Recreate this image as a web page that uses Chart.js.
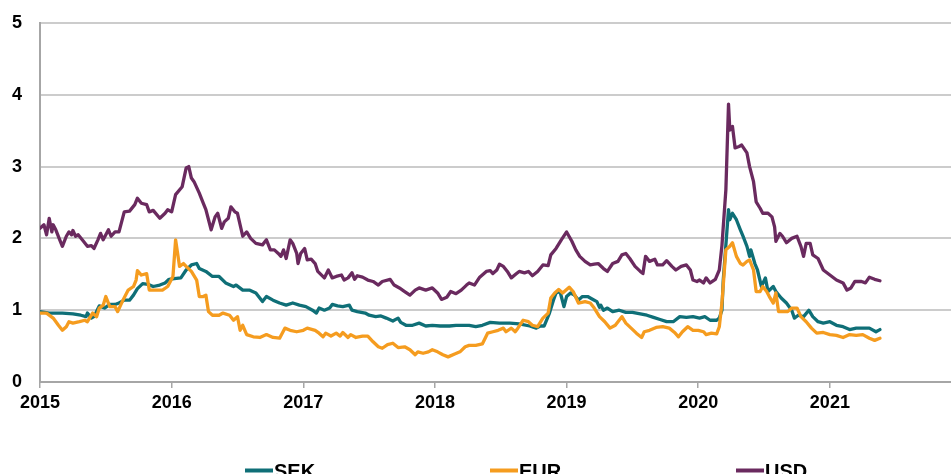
<!DOCTYPE html>
<html>
<head>
<meta charset="utf-8">
<script src="https://cdn.jsdelivr.net/npm/chart.js@4"></script>
<style>
  html, body { margin: 0; padding: 0; background: #fff; }
  #wrap { width: 951px; height: 474px; }
</style>
</head>
<body>
<div id="wrap"><canvas id="lineCanvas"></canvas></div>
<script>
// decimal years
const sekDates = [2015.00,2015.07,2015.17,2015.25,2015.31,2015.35,2015.36,2015.39,2015.41,2015.45,
  2015.49,2015.53,2015.57,2015.60,2015.64,2015.68,2015.71,2015.74,2015.78,2015.82,
  2015.86,2015.91,2015.95,2015.98,2016.02,2016.07,2016.11,2016.15,2016.19,2016.21,
  2016.26,2016.31,2016.36,2016.41,2016.47,2016.49,2016.54,2016.59,2016.64,2016.69,
  2016.72,2016.77,2016.82,2016.87,2016.92,2016.97,2017.02,2017.07,2017.10,2017.12,
  2017.16,2017.20,2017.22,2017.26,2017.30,2017.35,2017.37,2017.41,2017.47,2017.50,
  2017.55,2017.59,2017.63,2017.68,2017.72,2017.74,2017.78,2017.83,2017.88,2017.93,
  2017.98,2018.04,2018.11,2018.16,2018.21,2018.26,2018.31,2018.36,2018.42,2018.49,
  2018.57,2018.64,2018.72,2018.77,2018.80,2018.83,2018.87,2018.90,2018.92,2018.95,
  2018.98,2019.00,2019.03,2019.06,2019.09,2019.12,2019.16,2019.20,2019.23,2019.25,
  2019.26,2019.28,2019.31,2019.35,2019.40,2019.45,2019.50,2019.56,2019.61,2019.66,
  2019.71,2019.76,2019.81,2019.86,2019.91,2019.96,2020.01,2020.05,2020.09,2020.14,
  2020.16,2020.18,2020.19,2020.23,2020.24,2020.26,2020.29,2020.32,2020.34,2020.37,
  2020.39,2020.40,2020.43,2020.45,2020.48,2020.51,2020.53,2020.57,2020.59,2020.63,
  2020.67,2020.71,2020.73,2020.76,2020.80,2020.84,2020.87,2020.91,2020.95,2021.00,
  2021.05,2021.10,2021.15,2021.20,2021.25,2021.30,2021.35,2021.38]
const sekValues = [0.98,0.96,0.96,0.95,0.93,0.91,0.96,0.89,0.91,1.06,
  1.03,1.08,1.08,1.10,1.14,1.14,1.21,1.30,1.37,1.36,
  1.33,1.35,1.38,1.43,1.44,1.45,1.56,1.63,1.65,1.58,
  1.54,1.47,1.47,1.38,1.33,1.35,1.28,1.28,1.24,1.12,
  1.19,1.14,1.10,1.07,1.10,1.07,1.05,1.00,0.96,1.03,
  1.00,1.03,1.08,1.06,1.05,1.07,1.00,0.98,0.96,0.93,
  0.91,0.92,0.89,0.85,0.89,0.83,0.79,0.79,0.82,0.78,
  0.79,0.78,0.78,0.79,0.79,0.79,0.77,0.79,0.83,0.82,
  0.82,0.81,0.78,0.75,0.78,0.78,0.96,1.14,1.24,1.26,
  1.05,1.19,1.24,1.21,1.14,1.19,1.19,1.15,1.12,1.04,
  1.07,1.00,1.03,0.98,1.00,0.97,0.97,0.95,0.93,0.90,
  0.87,0.84,0.84,0.91,0.90,0.91,0.89,0.91,0.86,0.86,
  0.89,1.00,1.42,2.40,2.26,2.35,2.26,2.12,2.03,1.89,
  1.75,1.84,1.65,1.56,1.33,1.45,1.26,1.33,1.26,1.17,
  1.10,1.00,0.89,0.93,0.91,1.00,0.91,0.84,0.82,0.84,
  0.79,0.77,0.73,0.75,0.75,0.75,0.70,0.73]

const eurDates = [2015.00,2015.05,2015.10,2015.14,2015.17,2015.20,2015.22,2015.25,2015.30,2015.34,
  2015.36,2015.40,2015.43,2015.45,2015.48,2015.50,2015.53,2015.57,2015.59,2015.63,
  2015.67,2015.71,2015.73,2015.74,2015.77,2015.81,2015.83,2015.88,2015.93,2015.97,
  2016.01,2016.03,2016.06,2016.09,2016.11,2016.15,2016.19,2016.21,2016.24,2016.26,
  2016.28,2016.31,2016.36,2016.39,2016.44,2016.47,2016.50,2016.52,2016.54,2016.57,
  2016.62,2016.67,2016.72,2016.77,2016.82,2016.86,2016.90,2016.95,2017.00,2017.03,
  2017.09,2017.12,2017.15,2017.17,2017.21,2017.25,2017.28,2017.30,2017.34,2017.36,
  2017.40,2017.45,2017.49,2017.53,2017.57,2017.60,2017.64,2017.68,2017.72,2017.77,
  2017.81,2017.85,2017.87,2017.91,2017.95,2017.98,2018.02,2018.06,2018.10,2018.15,
  2018.19,2018.23,2018.26,2018.31,2018.36,2018.40,2018.44,2018.48,2018.52,2018.54,
  2018.58,2018.61,2018.63,2018.67,2018.71,2018.74,2018.78,2018.82,2018.86,2018.88,
  2018.91,2018.94,2018.97,2019.02,2019.05,2019.09,2019.14,2019.18,2019.21,2019.25,
  2019.29,2019.33,2019.37,2019.42,2019.45,2019.49,2019.53,2019.57,2019.59,2019.63,
  2019.68,2019.73,2019.78,2019.82,2019.85,2019.88,2019.92,2019.96,2020.00,2020.04,
  2020.06,2020.10,2020.14,2020.16,2020.18,2020.21,2020.24,2020.26,2020.29,2020.32,
  2020.34,2020.37,2020.39,2020.42,2020.44,2020.47,2020.49,2020.52,2020.54,2020.57,
  2020.59,2020.61,2020.64,2020.68,2020.71,2020.75,2020.78,2020.82,2020.86,2020.90,
  2020.95,2021.00,2021.05,2021.10,2021.15,2021.20,2021.25,2021.30,2021.34,2021.38]
const eurValues = [0.96,0.96,0.89,0.79,0.72,0.77,0.84,0.82,0.84,0.86,
  0.84,0.96,0.91,1.03,1.07,1.19,1.05,1.05,0.98,1.14,
  1.28,1.33,1.42,1.55,1.49,1.51,1.28,1.28,1.28,1.33,
  1.47,1.98,1.61,1.65,1.61,1.54,1.42,1.19,1.19,1.21,
  0.98,0.93,0.93,0.96,0.93,0.86,0.91,0.72,0.79,0.66,
  0.63,0.62,0.66,0.62,0.61,0.75,0.72,0.70,0.72,0.75,
  0.72,0.68,0.63,0.68,0.64,0.68,0.64,0.69,0.62,0.66,
  0.62,0.64,0.64,0.56,0.49,0.47,0.52,0.54,0.48,0.49,
  0.45,0.38,0.42,0.40,0.42,0.45,0.42,0.38,0.35,0.39,
  0.42,0.49,0.51,0.51,0.53,0.68,0.70,0.72,0.75,0.70,
  0.75,0.70,0.75,0.86,0.84,0.79,0.77,0.89,0.96,1.17,
  1.24,1.29,1.24,1.32,1.26,1.10,1.12,1.10,1.03,0.91,
  0.84,0.75,0.79,0.91,0.82,0.75,0.68,0.62,0.70,0.72,
  0.76,0.77,0.75,0.69,0.63,0.70,0.77,0.72,0.72,0.70,
  0.66,0.68,0.67,0.77,1.10,1.84,1.89,1.94,1.75,1.65,
  1.63,1.68,1.70,1.56,1.26,1.26,1.33,1.26,1.19,1.10,
  1.24,0.98,0.98,0.98,1.03,1.03,0.91,0.84,0.75,0.68,
  0.69,0.66,0.65,0.62,0.66,0.65,0.66,0.61,0.58,0.61]

const usdDates = [2015.00,2015.03,2015.05,2015.07,2015.09,2015.10,2015.12,2015.15,2015.17,2015.20,
  2015.22,2015.24,2015.25,2015.27,2015.29,2015.33,2015.36,2015.39,2015.41,2015.44,
  2015.46,2015.48,2015.50,2015.52,2015.54,2015.57,2015.60,2015.64,2015.68,2015.72,
  2015.74,2015.77,2015.81,2015.83,2015.86,2015.91,2015.95,2015.97,2016.00,2016.03,
  2016.08,2016.11,2016.13,2016.15,2016.17,2016.21,2016.24,2016.26,2016.30,2016.33,
  2016.35,2016.38,2016.40,2016.43,2016.45,2016.48,2016.50,2016.54,2016.57,2016.60,
  2016.64,2016.69,2016.72,2016.75,2016.78,2016.81,2016.83,2016.85,2016.87,2016.90,
  2016.92,2016.95,2016.96,2016.98,2017.01,2017.03,2017.06,2017.09,2017.11,2017.16,
  2017.19,2017.22,2017.25,2017.29,2017.31,2017.34,2017.37,2017.39,2017.41,2017.45,
  2017.49,2017.53,2017.57,2017.60,2017.66,2017.69,2017.73,2017.77,2017.81,2017.85,
  2017.88,2017.93,2017.98,2018.02,2018.05,2018.09,2018.12,2018.16,2018.20,2018.24,
  2018.26,2018.30,2018.34,2018.39,2018.42,2018.44,2018.47,2018.49,2018.52,2018.55,
  2018.58,2018.62,2018.64,2018.68,2018.71,2018.74,2018.78,2018.82,2018.86,2018.88,
  2018.92,2018.96,2019.00,2019.04,2019.07,2019.10,2019.14,2019.18,2019.21,2019.24,
  2019.28,2019.31,2019.35,2019.39,2019.42,2019.45,2019.48,2019.52,2019.56,2019.58,
  2019.60,2019.63,2019.67,2019.69,2019.73,2019.76,2019.80,2019.83,2019.87,2019.91,
  2019.94,2019.96,2019.99,2020.01,2020.04,2020.06,2020.09,2020.13,2020.16,2020.18,
  2020.21,2020.23,2020.24,2020.26,2020.28,2020.31,2020.33,2020.37,2020.39,2020.42,
  2020.44,2020.47,2020.49,2020.53,2020.56,2020.58,2020.59,2020.62,2020.64,2020.67,
  2020.71,2020.75,2020.78,2020.80,2020.82,2020.85,2020.87,2020.91,2020.95,2021.00,
  2021.05,2021.10,2021.13,2021.16,2021.19,2021.24,2021.27,2021.30,2021.34,2021.38]
const usdValues = [2.14,2.19,2.05,2.28,2.09,2.19,2.12,1.98,1.89,2.03,
  2.09,2.05,2.11,2.03,2.05,1.96,1.89,1.90,1.86,1.98,
  2.07,1.98,2.05,2.12,2.03,2.09,2.09,2.37,2.38,2.47,
  2.56,2.49,2.47,2.37,2.39,2.28,2.35,2.40,2.37,2.61,
  2.72,2.98,3.00,2.84,2.79,2.63,2.49,2.40,2.12,2.30,
  2.35,2.14,2.23,2.28,2.44,2.37,2.35,2.03,2.09,2.00,
  1.93,1.91,1.98,1.84,1.84,1.79,1.75,1.84,1.72,1.98,
  1.93,1.79,1.65,1.79,1.86,1.70,1.71,1.65,1.54,1.45,
  1.56,1.45,1.47,1.49,1.42,1.45,1.52,1.43,1.48,1.46,
  1.42,1.40,1.35,1.40,1.43,1.35,1.31,1.26,1.21,1.28,
  1.31,1.28,1.31,1.24,1.15,1.18,1.26,1.23,1.28,1.35,
  1.38,1.35,1.46,1.54,1.55,1.51,1.56,1.64,1.61,1.54,
  1.45,1.51,1.54,1.52,1.54,1.48,1.54,1.63,1.62,1.77,
  1.86,1.98,2.09,1.96,1.84,1.75,1.68,1.63,1.64,1.65,
  1.58,1.54,1.65,1.68,1.77,1.79,1.72,1.61,1.54,1.51,
  1.75,1.68,1.71,1.63,1.63,1.69,1.61,1.56,1.61,1.63,
  1.56,1.42,1.40,1.42,1.38,1.45,1.38,1.43,1.56,1.90,
  2.68,3.87,3.51,3.56,3.26,3.28,3.30,3.19,3.00,2.79,
  2.51,2.42,2.35,2.35,2.30,2.16,1.96,2.07,2.03,1.94,
  2.00,2.03,1.89,1.75,1.93,1.93,1.77,1.72,1.56,1.49,
  1.42,1.38,1.28,1.31,1.40,1.40,1.38,1.46,1.43,1.41]

const seriesNames = ['SEK', 'EUR', 'USD']
const seriesColors = ['#0f6f77', '#f59c1f', '#6a2a5f']
const yearTicks = [2015, 2016, 2017, 2018, 2019, 2020, 2021]

const points = (dates, values) => dates.map((d, i) => ({ x: d, y: values[i] }))

const tickFont = { family: '"Liberation Sans", Arial, sans-serif', size: 18, weight: 'bold' }

// legend drawn by hand so the items sit where they sit in the picture
const bottomLegend = {
    id: 'bottomLegend',
    afterDraw(chart) {
        const ctx = chart.ctx
        const starts = [245, 490, 736]
        ctx.save()
        ctx.font = 'bold 20px "Liberation Sans", Arial, sans-serif'
        ctx.textBaseline = 'middle'
        ctx.textAlign = 'left'
        chart.data.datasets.forEach((ds, i) => {
            const x = starts[i]
            ctx.strokeStyle = ds.borderColor
            ctx.lineWidth = 4
            ctx.beginPath()
            ctx.moveTo(x, 470.5)
            ctx.lineTo(x + 28, 470.5)
            ctx.stroke()
            ctx.fillStyle = '#000'
            ctx.fillText(ds.label, x + 29, 472)
        })
        ctx.restore()
    }
}

const lineCanvas = document.getElementById('lineCanvas')

const lineChart = new Chart(lineCanvas, {
    type: 'line',
    data: {
        datasets: [
            { label: seriesNames[0], data: points(sekDates, sekValues), borderColor: seriesColors[0], order: 2 },
            { label: seriesNames[1], data: points(eurDates, eurValues), borderColor: seriesColors[1], order: 1 },
            { label: seriesNames[2], data: points(usdDates, usdValues), borderColor: seriesColors[2], order: 0 }
        ]
    },
    options: {
        responsive: true,
        maintainAspectRatio: false,
        animation: false,
        layout: { padding: { top: 23, left: 0, right: 0, bottom: 0 } },
        elements: {
            point: { radius: 0 },
            line: { borderWidth: 3.3, tension: 0, borderJoinStyle: 'round', borderCapStyle: 'round', fill: false }
        },
        plugins: {
            legend: { display: false },
            tooltip: { enabled: false }
        },
        scales: {
            x: {
                type: 'linear',
                min: 2015,
                max: 2021.92,
                afterFit: (scale) => { scale.height = 92 },
                afterBuildTicks: (scale) => { scale.ticks = yearTicks.map(v => ({ value: v })) },
                ticks: { autoSkip: false, maxRotation: 0, padding: 4, color: '#000', font: tickFont, callback: v => String(v) },
                grid: { drawOnChartArea: false, drawTicks: true, tickLength: 6, color: '#a6a6a6', lineWidth: 1.5 },
                border: { color: '#a6a6a6', width: 2 }
            },
            y: {
                min: 0,
                max: 5,
                afterFit: (scale) => { scale.width = 40; scale.paddingTop = 0; scale.paddingBottom = 0 },
                ticks: { stepSize: 1, padding: 18, color: '#000', font: tickFont },
                grid: { color: '#cccccc', lineWidth: 2, drawTicks: false },
                border: { color: '#a6a6a6', width: 2 }
            }
        }
    },
    plugins: [bottomLegend]
})
</script>
</body>
</html>
